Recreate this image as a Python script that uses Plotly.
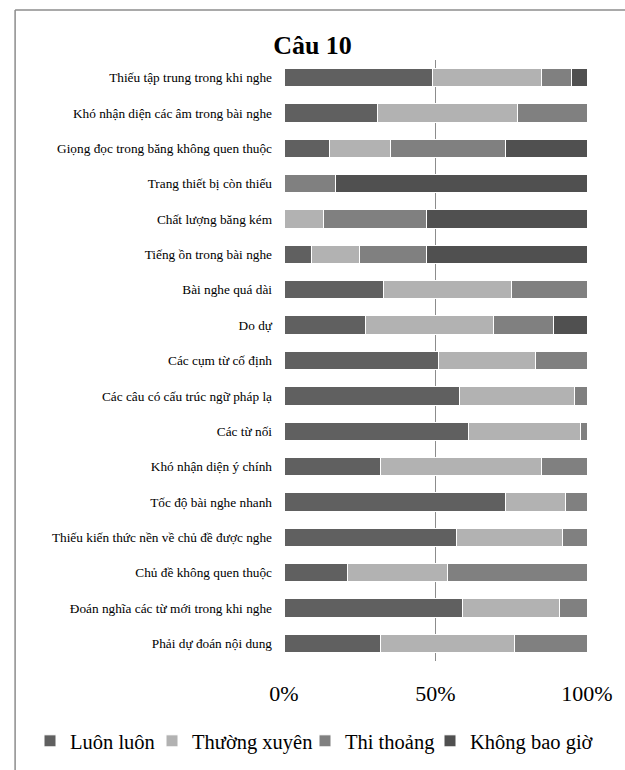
import plotly.graph_objects as go

categories = [
    "Thiếu tập trung trong khi nghe",
    "Khó nhận diện các âm trong bài nghe",
    "Giọng đọc trong băng không quen thuộc",
    "Trang thiết bị còn thiếu",
    "Chất lượng băng kém",
    "Tiếng ồn trong bài nghe",
    "Bài nghe quá dài",
    "Do dự",
    "Các cụm từ cố định",
    "Các câu có cấu trúc ngữ pháp lạ",
    "Các từ nối",
    "Khó nhận diện ý chính",
    "Tốc độ bài nghe nhanh",
    "Thiếu kiến thức nền về chủ đề được nghe",
    "Chủ đề không quen thuộc",
    "Đoán nghĩa các từ mới trong khi nghe",
    "Phải dự đoán nội dung",
]

luon_luon = [49, 31, 15, 0, 0, 9, 33, 27, 51, 58, 61, 32, 73, 57, 21, 59, 32]
thuong_xuyen = [36, 46, 20, 0, 13, 16, 42, 42, 32, 38, 37, 53, 20, 35, 33, 32, 44]
thi_thoang = [10, 23, 38, 17, 34, 22, 25, 20, 17, 4, 2, 15, 7, 8, 46, 9, 24]
khong_bao_gio = [5, 0, 27, 83, 53, 53, 0, 11, 0, 0, 0, 0, 0, 0, 0, 0, 0]

series_names = ["Luôn luôn", "Thường xuyên", "Thi thoảng", "Không bao giờ"]
series_values = [luon_luon, thuong_xuyen, thi_thoang, khong_bao_gio]
series_colors = ["#606060", "#b2b2b2", "#808080", "#505050"]
tick_vals = [0, 50, 100]
tick_text = ["0%", "50%", "100%"]

FONT = "Liberation Serif, Times New Roman, serif"

W, H = 625, 770
L, R, T, B = 284, 30, 60, 109
pw, ph = W - L - R, H - T - B

def px_x(px):
    return (px - L) / pw

def px_y(py):
    return (H - B - py) / ph

legend_ids = ["legend", "legend2", "legend3", "legend4"]
legend_x_px = [30, 152, 305, 430]

fig = go.Figure()
for name, vals, col, lid in zip(series_names, series_values, series_colors, legend_ids):
    fig.add_trace(go.Bar(
        y=categories, x=vals, name=name, orientation="h",
        marker=dict(color=col, line=dict(color="white", width=1)),
        legend=lid,
    ))

legend_layout = {}
for lid, lx in zip(legend_ids, legend_x_px):
    legend_layout[lid] = dict(
        orientation="h", xref="container", yref="container",
        x=lx / W, y=1 - 741 / H, xanchor="left", yanchor="middle",
        font=dict(size=20.5, family=FONT, color="black"),
        itemwidth=30, bgcolor="rgba(0,0,0,0)",
    )

fig.update_layout(
    width=W, height=H,
    barmode="stack",
    bargap=0.48,
    margin=dict(l=L, r=R, t=T, b=B),
    paper_bgcolor="white",
    plot_bgcolor="white",
    font=dict(family=FONT, color="black"),
    title=dict(text="<b>Câu 10</b>", x=0.5, xref="container", xanchor="center",
               y=1 - 45 / H, yref="container", yanchor="middle",
               font=dict(size=26, family=FONT, color="black")),
    xaxis=dict(
        range=[0, 100], tickvals=tick_vals, ticktext=tick_text,
        showgrid=True, gridcolor="#8c8c8c", gridwidth=1,
        zeroline=False, showline=False,
        tickfont=dict(size=22, family=FONT, color="black"),
        ticklabelstandoff=17, fixedrange=True,
    ),
    yaxis=dict(
        autorange="reversed", showgrid=False, showline=False, zeroline=False,
        tickfont=dict(size=13.3, family=FONT, color="black"),
        ticklabelstandoff=11, fixedrange=True,
    ),
    showlegend=True,
    shapes=[
        dict(type="line", xref="paper", yref="paper",
             x0=px_x(8), x1=px_x(8), y0=px_y(10), y1=px_y(780),
             line=dict(color="#8c8c8c", width=1.5)),
        dict(type="line", xref="paper", yref="paper",
             x0=px_x(8), x1=px_x(640), y0=px_y(10), y1=px_y(10),
             line=dict(color="#8c8c8c", width=1.5)),
    ],
    **legend_layout,
)

fig.write_html(
    "out.html",
    config={"displayModeBar": False},
    post_script="document.body.style.margin='0';document.body.style.overflow='hidden';",
)
